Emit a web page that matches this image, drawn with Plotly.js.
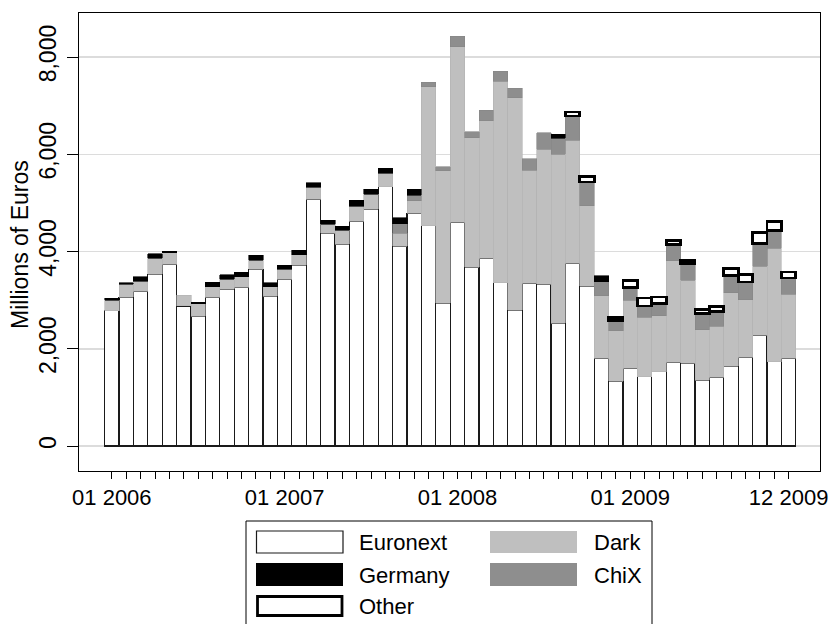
<!DOCTYPE html>
<html>
<head>
<meta charset="utf-8">
<script src="https://cdn.plot.ly/plotly-3.0.1.min.js"></script>
<style>html,body{margin:0;padding:0;background:#fff;}#chart{width:832px;height:624px;}</style>
</head>
<body>
<div id="chart"></div>
<script>
const months = ["01 2006","02 2006","03 2006","04 2006","05 2006","06 2006","07 2006","08 2006","09 2006","10 2006","11 2006","12 2006",
"01 2007","02 2007","03 2007","04 2007","05 2007","06 2007","07 2007","08 2007","09 2007","10 2007","11 2007","12 2007",
"01 2008","02 2008","03 2008","04 2008","05 2008","06 2008","07 2008","08 2008","09 2008","10 2008","11 2008","12 2008",
"01 2009","02 2009","03 2009","04 2009","05 2009","06 2009","07 2009","08 2009","09 2009","10 2009","11 2009","12 2009"];
const labelledMonths = ["01 2006","01 2007","01 2008","01 2009","12 2009"];

const euronext = [2780,3060,3180,3530,3735,2880,2665,3060,3220,3265,3635,3080,
3425,3715,5070,4375,4150,4620,4868,5333,4113,4785,4531,2935,
4600,3675,3866,3359,2790,3346,3325,2523,3757,3290,1803,1330,
1597,1426,1529,1721,1700,1357,1412,1645,1824,2276,1734,1803];
const dark = [220,270,210,335,240,225,260,220,205,215,190,200,
215,215,255,185,290,315,305,275,261,254,2858,2727,
3612,2666,2824,4147,4373,2330,2776,3482,2536,1646,1289,1042,
1398,1220,1145,2084,1714,1029,1056,1508,1179,1426,2332,1323];
const chix = [null,null,null,null,null,null,null,null,null,null,null,null,
null,null,null,null,null,null,null,null,192,123,91,83,
220,123,220,206,193,233,342,323,495,494,288,213,
262,234,254,342,336,336,302,357,371,460,369,330];
const germany = [40,30,90,90,30,null,30,90,100,90,100,75,
80,95,90,80,75,115,105,103,129,117,null,null,
null,null,null,null,null,null,null,88,null,null,123,null,
null,null,null,null,null,null,null,null,null,null,null,null];
const other = [null,null,null,null,null,null,null,null,null,null,null,null,
null,null,null,null,null,null,null,null,null,null,null,null,
null,null,null,null,null,null,null,null,80,115,null,62,
144,165,136,82,68,82,103,136,150,232,185,123];

const FONT = "Liberation Sans, Arial, Helvetica, sans-serif";
const traces = [
  {name:"Euronext", y:euronext, fill:"#ffffff", line:"#1a1a1a", lw:1.2},
  {name:"Dark", y:dark, fill:"#bfbfbf", line:"#b3b3b3", lw:0.6},
  {name:"ChiX", y:chix, fill:"#8e8e8e", line:"#858585", lw:0.6},
  {name:"Germany", y:germany, fill:"#000000", line:"#000000", lw:0.6},
  {name:"Other", y:other, fill:"#ffffff", line:"#000000", lw:2.7}
].map(s => ({
  type:"bar", name:s.name, x:months, y:s.y,
  marker:{color:s.fill, line:{color:s.line, width:s.lw}},
  hoverinfo:"x+y+name"
}));

const L = 79, R = 820, T = 13, B = 471;
const px = p => (p - L) / (R - L);
const py = p => (B - p) / (B - T);

const shapes = [
  {type:"rect", xref:"paper", yref:"paper", x0:px(246), x1:px(652), y0:py(521), y1:py(640), line:{color:"#000", width:1}, fillcolor:"rgba(0,0,0,0)"},
  {type:"rect", xref:"paper", yref:"paper", x0:px(256.5), x1:px(343), y0:py(531), y1:py(553), line:{color:"#1a1a1a", width:1.2}, fillcolor:"#ffffff"},
  {type:"rect", xref:"paper", yref:"paper", x0:px(256), x1:px(343), y0:py(563), y1:py(586), line:{color:"#000", width:0}, fillcolor:"#000000"},
  {type:"rect", xref:"paper", yref:"paper", x0:px(257.5), x1:px(342), y0:py(596.5), y1:py(615.5), line:{color:"#000", width:2.8}, fillcolor:"#ffffff"},
  {type:"rect", xref:"paper", yref:"paper", x0:px(490), x1:px(577), y0:py(531), y1:py(553), line:{width:0}, fillcolor:"#bfbfbf"},
  {type:"rect", xref:"paper", yref:"paper", x0:px(490), x1:px(577), y0:py(563), y1:py(586), line:{width:0}, fillcolor:"#8e8e8e"}
];
const legendText = [["Euronext",357,542],["Germany",357,575],["Other",357,606],["Dark",592,542],["ChiX",592,575]];
const annotations = legendText.map(t => ({
  xref:"paper", yref:"paper", x:px(t[1]), y:py(t[2]), text:t[0], showarrow:false,
  xanchor:"left", yanchor:"middle", font:{family:FONT, size:22, color:"#000"}
}));
annotations.push({
  xref:"paper", yref:"paper", x:px(20), y:py(245), text:"Millions of Euros", showarrow:false,
  textangle:-90, xanchor:"center", yanchor:"middle", font:{family:FONT, size:23, color:"#000"}
});

const layout = {
  width:832, height:624,
  margin:{l:L, r:832-R, t:T, b:624-B, pad:0},
  paper_bgcolor:"#ffffff", plot_bgcolor:"#ffffff",
  barmode:"stack", bargap:0,
  showlegend:false,
  font:{family:FONT, color:"#000"},
  xaxis:{
    type:"category", categoryorder:"array", categoryarray:months,
    range:[-2.28, 49.18], autorange:false,
    tickmode:"array", tickvals:months,
    ticktext:months.map(m => labelledMonths.includes(m) ? m : ""),
    ticks:"outside", ticklen:7, tickwidth:1, tickcolor:"#000",
    tickangle:0, tickfont:{family:FONT, size:22, color:"#000"},
    showgrid:false, zeroline:false,
    showline:true, linecolor:"#000", linewidth:1, mirror:true
  },
  yaxis:{
    range:[-514, 8905], autorange:false,
    tickmode:"array", tickvals:[0,2000,4000,6000,8000],
    ticktext:["0","2,000","4,000","6,000","8,000"],
    ticks:"outside", ticklen:11, tickwidth:1, tickcolor:"#000",
    tickangle:-90, tickfont:{family:FONT, size:23, color:"#000"},
    ticklabelstandoff:2,
    showgrid:true, gridcolor:"#dcdcdc", gridwidth:1.5,
    zeroline:false,
    showline:true, linecolor:"#000", linewidth:1, mirror:true
  },
  shapes:shapes,
  annotations:annotations
};

Plotly.newPlot("chart", traces, layout, {displayModeBar:false, staticPlot:true});
</script>
</body>
</html>
